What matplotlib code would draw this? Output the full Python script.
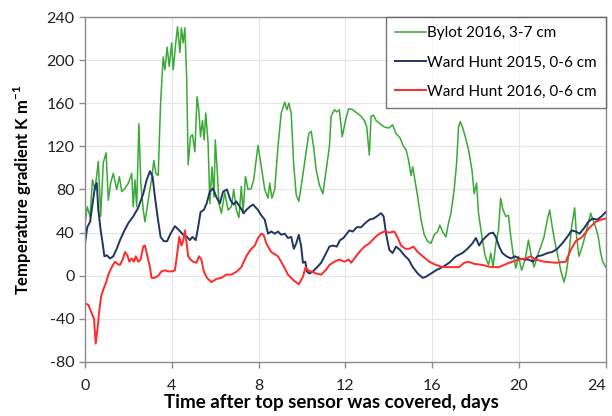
import matplotlib
matplotlib.use("Agg")
import matplotlib.pyplot as plt

# Bylot 2016, 3-7 cm
bylot_t = [0, 0.1, 0.23, 0.34, 0.46, 0.61, 0.72, 0.84, 0.97, 1.07, 1.18, 1.3, 1.46, 1.58,
           1.69, 1.84, 2.0, 2.15, 2.22, 2.3, 2.38, 2.48, 2.57, 2.68, 2.76, 2.91, 3.06, 3.17,
           3.26, 3.37, 3.48, 3.6, 3.68, 3.78, 3.88, 3.99, 4.06, 4.18, 4.26, 4.37, 4.44, 4.52,
           4.6, 4.68, 4.75, 4.86, 4.95, 5.06, 5.16, 5.24, 5.32, 5.41, 5.49, 5.56, 5.67, 5.75,
           5.85, 5.94, 6.0, 6.08, 6.17, 6.28, 6.44, 6.59, 6.74, 6.85, 6.97, 7.09, 7.2, 7.28,
           7.39, 7.51, 7.66, 7.77, 7.97, 8.12, 8.28, 8.43, 8.51, 8.61, 8.74, 8.89, 9.04, 9.2,
           9.3, 9.39, 9.5, 9.61, 9.73, 9.85, 9.96, 10.11, 10.31, 10.42, 10.53, 10.65, 10.8,
           10.96, 11.11, 11.26, 11.34, 11.49, 11.6, 11.72, 11.85, 12.0, 12.15, 12.34, 12.52,
           12.72, 12.87, 12.98, 13.1, 13.18, 13.29, 13.41, 13.59, 13.79, 13.99, 14.17, 14.33,
           14.51, 14.67, 14.79, 14.91, 15.02, 15.1, 15.2, 15.33, 15.48, 15.63, 15.78, 15.94,
           16.09, 16.25, 16.35, 16.47, 16.63, 16.75, 16.86, 17.01, 17.12, 17.21, 17.29, 17.39,
           17.52, 17.67, 17.83, 17.93, 18.04, 18.13, 18.29, 18.44, 18.59, 18.7, 18.8, 18.93,
           19.05, 19.15, 19.26, 19.39, 19.51, 19.62, 19.72, 19.85, 19.97, 20.12, 20.28, 20.43,
           20.54, 20.69, 20.84, 21.0, 21.15, 21.3, 21.41, 21.53, 21.66, 21.76, 21.92, 22.07,
           22.17, 22.3, 22.42, 22.56, 22.65, 22.76, 22.91, 23.07, 23.19, 23.3, 23.4, 23.53,
           23.65, 23.76, 23.86, 23.99]
bylot_v = [49, 64, 55, 89, 80, 106, 55, 105, 114, 70, 86, 95, 80, 92,
           78, 81, 86, 95, 64, 89, 64, 141, 86, 61, 50, 70, 89, 107,
           95, 93, 160, 203, 191, 212, 194, 216, 191, 216, 231, 207, 230, 216,
           230, 185, 103, 129, 131, 115, 166, 154, 129, 144, 126, 151, 123, 67,
           101, 73, 126, 101, 67, 58, 77, 61, 64, 80, 61, 54, 83, 58,
           92, 80, 81, 89, 121, 101, 80, 72, 86, 72, 80, 120, 151, 161,
           154, 160, 151, 104, 75, 69, 83, 104, 132, 134, 120, 98, 84,
           76, 98, 120, 148, 154, 152, 154, 129, 144, 155, 154, 151,
           148, 144, 138, 112, 148, 149, 144, 141, 138, 137, 140, 132,
           128, 120, 117, 107, 93, 101, 89, 73, 52, 38, 32, 30,
           38, 41, 47, 41, 36, 49, 58, 80, 104, 138, 143, 138,
           129, 117, 98, 76, 86, 58, 36, 18, 10, 21, 8, 30,
           42, 72, 61, 55, 56, 36, 21, 7, 18, 5, 15, 33,
           21, 8, 18, 27, 36, 52, 61, 45, 30, 21, 5, -6,
           2, 21, 45, 63, 36, 18, 27, 39, 49, 58, 52, 45,
           36, 21, 13, 8]

# Ward Hunt 2015, 0-6 cm
wh15_t = [0, 0.1, 0.23, 0.35, 0.46, 0.54, 0.61, 0.72, 0.81, 0.89, 1.0, 1.15, 1.3, 1.46,
          1.61, 1.79, 2.0, 2.22, 2.45, 2.68, 2.84, 2.99, 3.11, 3.22, 3.34, 3.48, 3.63, 3.78,
          3.94, 4.14, 4.34, 4.52, 4.7, 4.83, 4.95, 5.1, 5.21, 5.32, 5.47, 5.6, 5.75, 5.9,
          6.05, 6.21, 6.36, 6.54, 6.7, 6.85, 6.97, 7.13, 7.31, 7.43, 7.59, 7.74, 7.97, 8.12,
          8.28, 8.43, 8.58, 8.74, 8.89, 9.04, 9.2, 9.35, 9.5, 9.62, 9.73, 9.85, 9.96, 10.04,
          10.15, 10.22, 10.34, 10.5, 10.65, 10.88, 11.11, 11.26, 11.41, 11.6, 11.75, 11.91,
          12.06, 12.18, 12.34, 12.52, 12.72, 12.92, 13.1, 13.29, 13.44, 13.64, 13.76, 13.87,
          14.02, 14.17, 14.33, 14.51, 14.71, 14.91, 15.1, 15.33, 15.56, 15.7, 15.94, 16.17,
          16.47, 16.78, 17.09, 17.39, 17.62, 17.85, 18.01, 18.16, 18.31, 18.47, 18.62, 18.8,
          18.93, 19.08, 19.23, 19.42, 19.62, 19.82, 20.0, 20.23, 20.43, 20.64, 20.84, 21.07,
          21.3, 21.53, 21.76, 21.99, 22.22, 22.42, 22.61, 22.79, 22.99, 23.19, 23.37, 23.6,
          23.8, 23.99]
wh15_v = [30, 45, 50, 67, 83, 86, 61, 42, 30, 18, 19, 16, 18, 25,
          33, 41, 49, 55, 63, 76, 89, 97, 92, 73, 55, 36, 32, 32,
          39, 46, 42, 38, 36, 33, 36, 33, 45, 59, 61, 67, 78, 81,
          73, 67, 78, 80, 70, 66, 69, 64, 58, 61, 64, 66, 61, 56,
          52, 39, 41, 39, 41, 38, 39, 35, 36, 25, 30, 38, 27, 12,
          13, 4, 2, 4, 7, 12, 21, 27, 28, 27, 33, 35,
          39, 42, 41, 45, 45, 49, 52, 53, 55, 58, 55, 39,
          24, 21, 27, 24, 19, 15, 8, 2, -2, -1, 2, 5,
          8, 12, 18, 21, 25, 30, 35, 28, 33, 36, 39, 40,
          36, 27, 21, 18, 16, 18, 16, 15, 15, 13, 18, 19,
          21, 22, 25, 30, 36, 42, 41, 39, 44, 50, 53, 52,
          55, 59]

# Ward Hunt 2016, 0-6 cm
wh16_t = [0.04, 0.15, 0.31, 0.41, 0.49, 0.57, 0.64, 0.74, 0.84, 0.97, 1.07, 1.23, 1.38,
          1.49, 1.61, 1.73, 1.84, 1.95, 2.04, 2.15, 2.25, 2.34, 2.45, 2.56, 2.68, 2.76,
          2.86, 2.99, 3.06, 3.22, 3.37, 3.52, 3.68, 3.83, 3.99, 4.14, 4.25, 4.34, 4.44,
          4.52, 4.6, 4.68, 4.75, 4.86, 4.98, 5.13, 5.25, 5.36, 5.47, 5.62, 5.82, 6.05,
          6.28, 6.51, 6.74, 7.0, 7.2, 7.43, 7.62, 7.82, 7.97, 8.12, 8.23, 8.35, 8.58,
          8.89, 9.12, 9.35, 9.59, 9.85, 10.04, 10.16, 10.27, 10.42, 10.65, 10.88, 11.08,
          11.26, 11.49, 11.72, 11.95, 12.15, 12.26, 12.41, 12.64, 12.87, 13.1, 13.33,
          13.56, 13.79, 14.02, 14.25, 14.41, 14.56, 14.76, 14.94, 15.13, 15.33, 15.56,
          15.86, 16.17, 16.47, 16.78, 17.24, 17.47, 17.67, 17.93, 18.31, 18.7, 19.08,
          19.54, 20.0, 20.31, 20.54, 20.77, 21.15, 21.69, 22.15, 22.38, 22.61, 22.91,
          23.22, 23.53, 23.76, 23.99]
wh16_v = [-26, -27, -35, -40, -63, -50, -35, -19, -13, -6, 1, 8, 13,
          11, 10, 15, 22, 19, 13, 16, 13, 18, 13, 15, 27, 28,
          19, 8, -2, -2, 0, 4, 5, 4, 4, 5, 21, 36, 28,
          32, 42, 30, 18, 15, 13, 12, 18, 15, 4, -2, -6, -3,
          -2, 1, 1, 4, 8, 18, 24, 28, 35, 39, 38, 30, 22,
          18, 10, 1, -4, -8, -1, 8, 5, 4, 2, 1, 5,
          10, 13, 15, 13, 15, 12, 16, 22, 27, 30, 35,
          39, 41, 40, 41, 35, 28, 25, 25, 27, 22, 18,
          13, 10, 8, 8, 8, 12, 13, 11, 10, 8, 8,
          12, 15, 16, 18, 15, 13, 12, 13, 24, 32, 36,
          44, 50, 52, 53]

x_ticks = [0, 4, 8, 12, 16, 20, 24]
y_ticks = [-80, -40, 0, 40, 80, 120, 160, 200, 240]

plt.rcParams["font.family"] = ["Lato", "DejaVu Sans"]
plt.rcParams["axes.unicode_minus"] = False
plt.rcParams["mathtext.fontset"] = "custom"
plt.rcParams["mathtext.bf"] = "Lato:bold"
plt.rcParams["mathtext.rm"] = "Lato"

fig = plt.figure(figsize=(6.12, 4.16), dpi=100)
ax = fig.add_axes([0.139, 0.130, 0.851, 0.829])

ax.plot(bylot_t, bylot_v, color="#3aa935", lw=1.1, label="Bylot 2016, 3-7 cm")
ax.plot(wh15_t, wh15_v, color="#1f3563", lw=1.4, label="Ward Hunt 2015, 0-6 cm")
ax.plot(wh16_t, wh16_v, color="#ff2a2a", lw=1.4, label="Ward Hunt 2016, 0-6 cm")

ax.set_xlim(0, 24)
ax.set_ylim(-80, 240)
ax.set_xticks(x_ticks)
ax.set_yticks(y_ticks)
ax.grid(True, color="#e6e6e6", lw=0.8)
ax.set_axisbelow(True)
for s in ax.spines.values():
    s.set_color("#8c8c8c")
    s.set_linewidth(1.0)
ax.tick_params(labelsize=11.5, color="#8c8c8c", length=4, width=1.0, labelcolor="#222222")
ax.tick_params(axis="x", pad=8)
ax.get_xticklabels()[-1].set_horizontalalignment("right")

ax.set_xlabel("Time after top sensor was covered, days", fontsize=13.5, fontweight="bold")
ax.xaxis.set_label_coords(0.474, -0.093)
ax.xaxis.label.set_verticalalignment("top")
ax.set_ylabel(r"Temperature gradient K m$^{\mathbf{-1}}$", fontsize=12, fontweight="bold",
              labelpad=9)

leg = ax.legend(loc="upper right", fontsize=11, frameon=True, fancybox=False,
                borderaxespad=0.0, handlelength=2.0, handletextpad=0.1,
                labelspacing=1.0, borderpad=0.6)
leg.get_frame().set_edgecolor("#555555")
leg.get_frame().set_linewidth(1.0)

fig.savefig("out.png", dpi=100)
